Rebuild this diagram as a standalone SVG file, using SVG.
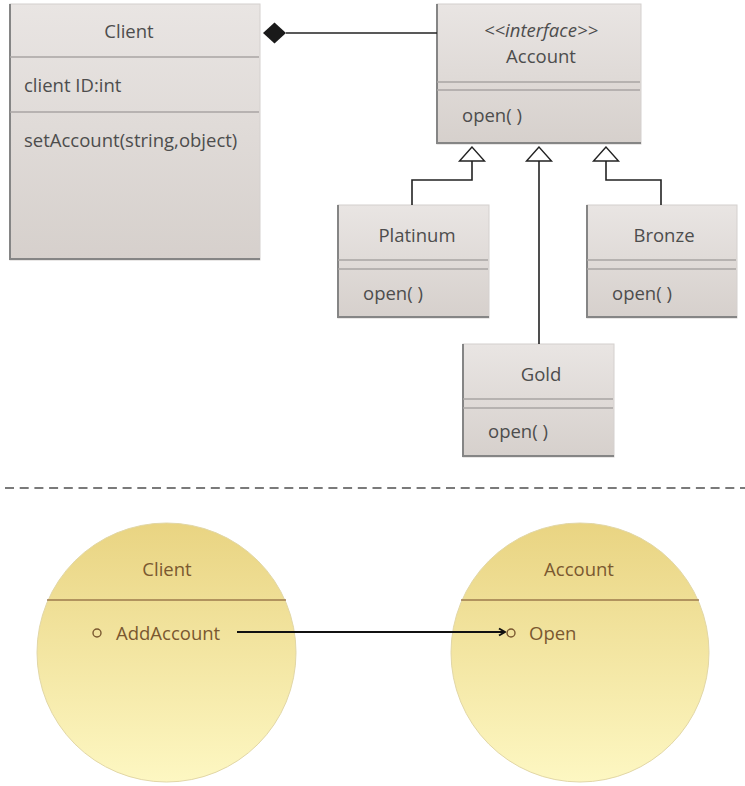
<svg xmlns="http://www.w3.org/2000/svg" width="745" height="786" viewBox="0 0 745 786">
<defs>
<linearGradient id="gBox" x1="0" y1="0" x2="0" y2="1">
<stop offset="0" stop-color="#e9e5e3"/>
<stop offset="1" stop-color="#d6d0cc"/>
</linearGradient>
<linearGradient id="gEll" x1="0" y1="0" x2="0" y2="1">
<stop offset="0" stop-color="#e9d482"/>
<stop offset="1" stop-color="#fdf7c2"/>
</linearGradient>
<marker id="open" viewBox="0 0 10 10" refX="9" refY="5" markerWidth="10" markerHeight="10" markerUnits="userSpaceOnUse" orient="auto">
<polyline points="3,1.5 9,5 3,8.5" fill="none" stroke="#111" stroke-width="2"/>
</marker>
<style>
.box{fill:url(#gBox);stroke:#d4d0ce;stroke-width:1}
.edge{fill:none;stroke:#858585;stroke-width:2}
.div{stroke:#a9a5a3;stroke-width:1.5}
.t{font-family:"Open Sans","Noto Sans","Liberation Sans",sans-serif;font-size:18.5px;fill:#4d4d4d}
.c{text-anchor:middle}
.ell{fill:url(#gEll);stroke:#e2d7a6;stroke-width:1}
.ediv{stroke:#9c7a4c;stroke-width:1.5}
.et{font-family:"Open Sans","Noto Sans","Liberation Sans",sans-serif;font-size:18.5px;fill:#7a5830}
.dot{fill:none;stroke:#7a5830;stroke-width:1.4}
.con{fill:none;stroke:#222;stroke-width:1.6}
.tri{fill:#fff;stroke:#222;stroke-width:1.4}
</style>
</defs>

<g id="client-class">
<rect class="box" x="10" y="4" width="250" height="256"/>
<polyline class="edge" points="10,4 10,259 260,259"/>
<line class="div" x1="10" y1="57" x2="259" y2="57"/>
<line class="div" x1="10" y1="112" x2="259" y2="112"/>
<text class="t c" x="129" y="38">Client</text>
<text class="t" x="24" y="92">client ID:int</text>
<text class="t" x="24" y="147">setAccount(string,object)</text>
</g>

<g id="account-interface">
<rect class="box" x="437" y="4" width="204" height="140"/>
<polyline class="edge" points="437,4 437,143 641,143"/>
<line class="div" x1="437" y1="82" x2="640" y2="82"/>
<line class="div" x1="437" y1="90" x2="640" y2="90"/>
<text class="t c" x="541" y="37" font-style="italic" font-size="20.5px">&lt;&lt;interface&gt;&gt;</text>
<text class="t c" x="541" y="63">Account</text>
<text class="t" x="462" y="122">open( )</text>
</g>

<g id="platinum">
<rect class="box" x="338" y="205" width="151" height="113"/>
<polyline class="edge" points="338,205 338,317 489,317"/>
<line class="div" x1="338" y1="260" x2="488" y2="260"/>
<line class="div" x1="338" y1="269" x2="488" y2="269"/>
<text class="t c" x="417" y="242">Platinum</text>
<text class="t" x="363" y="300">open( )</text>
</g>

<g id="bronze">
<rect class="box" x="587" y="205" width="150" height="113"/>
<polyline class="edge" points="587,205 587,317 737,317"/>
<line class="div" x1="587" y1="260" x2="736" y2="260"/>
<line class="div" x1="587" y1="269" x2="736" y2="269"/>
<text class="t c" x="664" y="242">Bronze</text>
<text class="t" x="612" y="300">open( )</text>
</g>

<g id="gold">
<rect class="box" x="463" y="344" width="151" height="113"/>
<polyline class="edge" points="463,344 463,456 614,456"/>
<line class="div" x1="463" y1="399" x2="613" y2="399"/>
<line class="div" x1="463" y1="408" x2="613" y2="408"/>
<text class="t c" x="541" y="381">Gold</text>
<text class="t" x="488" y="438">open( )</text>
</g>

<line id="separator" x1="5" y1="488" x2="745" y2="488" stroke="#7a7a7a" stroke-width="1.8" stroke-dasharray="9 5.7"/>

<g id="client-object">
<ellipse class="ell" cx="166.5" cy="652.5" rx="129.5" ry="129.5"/>
<line class="ediv" x1="47" y1="600" x2="286" y2="600"/>
<text class="et c" x="167" y="576">Client</text>
<circle class="dot" cx="97" cy="633" r="4"/>
<text class="et" x="116" y="640">AddAccount</text>
</g>

<g id="account-object">
<ellipse class="ell" cx="580" cy="652.5" rx="129" ry="129.5"/>
<line class="ediv" x1="461" y1="600" x2="699" y2="600"/>
<text class="et c" x="579" y="576">Account</text>
<circle class="dot" cx="511" cy="633" r="4"/>
<text class="et" x="529" y="640">Open</text>
</g>

<g id="connectors">
<line class="con" x1="286" y1="33" x2="437" y2="33" stroke-width="2"/>
<polygon points="263,33 274.5,22.5 286,33 274.5,43.5" fill="#1a1a1a"/>
<polyline class="con" points="412,205 412,180 472,180 472,161"/>
<polygon class="tri" points="472,147 459.5,161 484.5,161"/>
<line class="con" x1="539" y1="344" x2="539" y2="161"/>
<polygon class="tri" points="539,147 526.5,161 551.5,161"/>
<polyline class="con" points="661,205 661,180 606,180 606,161"/>
<polygon class="tri" points="606,147 593.5,161 618.5,161"/>
<line x1="237" y1="632" x2="505" y2="632" stroke="#111" stroke-width="2" marker-end="url(#open)"/>
</g>
</svg>
